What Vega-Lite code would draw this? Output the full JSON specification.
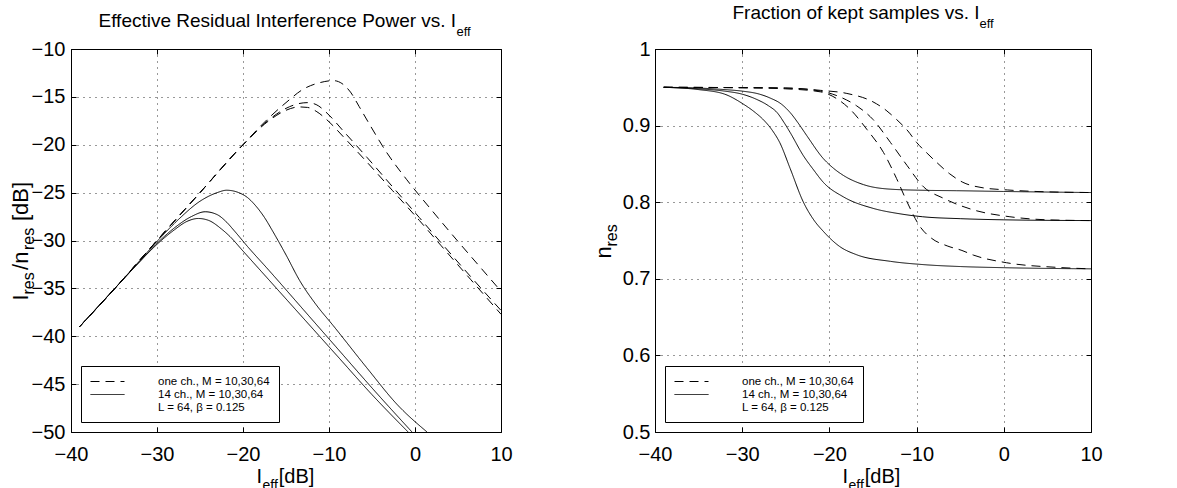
{
 "$schema": "https://vega.github.io/schema/vega-lite/v6.json",
 "background": "white",
 "padding": {"left": 8, "top": 2, "right": 5, "bottom": 0},
 "spacing": 78,
 "datasets": {
  "left": [
   {"s":"A","t":"one ch., M = 10,30,64","x":-39,"y":-39},{"s":"A","t":"one ch., M = 10,30,64","x":-35,"y":-35.1},{"s":"A","t":"one ch., M = 10,30,64","x":-30,"y":-30},{"s":"A","t":"one ch., M = 10,30,64","x":-25,"y":-25},{"s":"A","t":"one ch., M = 10,30,64","x":-20,"y":-20},{"s":"A","t":"one ch., M = 10,30,64","x":-17,"y":-17.2},{"s":"A","t":"one ch., M = 10,30,64","x":-15,"y":-15.6},{"s":"A","t":"one ch., M = 10,30,64","x":-13,"y":-14.2},{"s":"A","t":"one ch., M = 10,30,64","x":-11,"y":-13.5},{"s":"A","t":"one ch., M = 10,30,64","x":-9.5,"y":-13.3},{"s":"A","t":"one ch., M = 10,30,64","x":-8.5,"y":-13.6},{"s":"A","t":"one ch., M = 10,30,64","x":-7.5,"y":-14.5},{"s":"A","t":"one ch., M = 10,30,64","x":-6.5,"y":-16},{"s":"A","t":"one ch., M = 10,30,64","x":-5.2,"y":-18},{"s":"A","t":"one ch., M = 10,30,64","x":-3.3,"y":-20.8},{"s":"A","t":"one ch., M = 10,30,64","x":-1,"y":-23.6},{"s":"A","t":"one ch., M = 10,30,64","x":2,"y":-26.9},{"s":"A","t":"one ch., M = 10,30,64","x":5,"y":-30.1},{"s":"A","t":"one ch., M = 10,30,64","x":7.5,"y":-32.7},{"s":"A","t":"one ch., M = 10,30,64","x":10,"y":-35.3},
   {"s":"B","t":"one ch., M = 10,30,64","x":-39,"y":-39},{"s":"B","t":"one ch., M = 10,30,64","x":-35,"y":-35.1},{"s":"B","t":"one ch., M = 10,30,64","x":-30,"y":-30},{"s":"B","t":"one ch., M = 10,30,64","x":-25,"y":-25},{"s":"B","t":"one ch., M = 10,30,64","x":-20,"y":-20},{"s":"B","t":"one ch., M = 10,30,64","x":-17,"y":-17.4},{"s":"B","t":"one ch., M = 10,30,64","x":-15,"y":-16.2},{"s":"B","t":"one ch., M = 10,30,64","x":-13.5,"y":-15.7},{"s":"B","t":"one ch., M = 10,30,64","x":-12.5,"y":-15.6},{"s":"B","t":"one ch., M = 10,30,64","x":-11.5,"y":-15.8},{"s":"B","t":"one ch., M = 10,30,64","x":-10,"y":-16.9},{"s":"B","t":"one ch., M = 10,30,64","x":-8.4,"y":-18.5},{"s":"B","t":"one ch., M = 10,30,64","x":-5.6,"y":-21.3},{"s":"B","t":"one ch., M = 10,30,64","x":-2.6,"y":-24.4},{"s":"B","t":"one ch., M = 10,30,64","x":0.5,"y":-27.6},{"s":"B","t":"one ch., M = 10,30,64","x":3,"y":-30.2},{"s":"B","t":"one ch., M = 10,30,64","x":6.5,"y":-33.8},{"s":"B","t":"one ch., M = 10,30,64","x":10,"y":-37.3},
   {"s":"C","t":"one ch., M = 10,30,64","x":-39,"y":-39},{"s":"C","t":"one ch., M = 10,30,64","x":-35,"y":-35.1},{"s":"C","t":"one ch., M = 10,30,64","x":-30,"y":-30},{"s":"C","t":"one ch., M = 10,30,64","x":-25,"y":-25},{"s":"C","t":"one ch., M = 10,30,64","x":-20,"y":-20},{"s":"C","t":"one ch., M = 10,30,64","x":-17,"y":-17.5},{"s":"C","t":"one ch., M = 10,30,64","x":-15,"y":-16.4},{"s":"C","t":"one ch., M = 10,30,64","x":-13.5,"y":-16.05},{"s":"C","t":"one ch., M = 10,30,64","x":-12.5,"y":-16.1},{"s":"C","t":"one ch., M = 10,30,64","x":-11.5,"y":-16.5},{"s":"C","t":"one ch., M = 10,30,64","x":-10,"y":-17.6},{"s":"C","t":"one ch., M = 10,30,64","x":-8.4,"y":-19.1},{"s":"C","t":"one ch., M = 10,30,64","x":-5.6,"y":-21.8},{"s":"C","t":"one ch., M = 10,30,64","x":-2.6,"y":-24.8},{"s":"C","t":"one ch., M = 10,30,64","x":0.5,"y":-27.9},{"s":"C","t":"one ch., M = 10,30,64","x":3,"y":-30.5},{"s":"C","t":"one ch., M = 10,30,64","x":6.5,"y":-34.1},{"s":"C","t":"one ch., M = 10,30,64","x":10,"y":-37.7},
   {"s":"S1","t":"14 ch., M = 10,30,64","x":-39,"y":-39},{"s":"S1","t":"14 ch., M = 10,30,64","x":-35,"y":-35.1},{"s":"S1","t":"14 ch., M = 10,30,64","x":-32,"y":-32.1},{"s":"S1","t":"14 ch., M = 10,30,64","x":-30,"y":-30.1},{"s":"S1","t":"14 ch., M = 10,30,64","x":-27.5,"y":-27.8},{"s":"S1","t":"14 ch., M = 10,30,64","x":-25,"y":-25.9},{"s":"S1","t":"14 ch., M = 10,30,64","x":-23,"y":-25.0},{"s":"S1","t":"14 ch., M = 10,30,64","x":-21.9,"y":-24.75},{"s":"S1","t":"14 ch., M = 10,30,64","x":-20.5,"y":-25.0},{"s":"S1","t":"14 ch., M = 10,30,64","x":-19.5,"y":-25.5},{"s":"S1","t":"14 ch., M = 10,30,64","x":-18.5,"y":-26.4},{"s":"S1","t":"14 ch., M = 10,30,64","x":-17.5,"y":-27.6},{"s":"S1","t":"14 ch., M = 10,30,64","x":-16.5,"y":-29.1},{"s":"S1","t":"14 ch., M = 10,30,64","x":-15,"y":-31.5},{"s":"S1","t":"14 ch., M = 10,30,64","x":-13.4,"y":-34.2},{"s":"S1","t":"14 ch., M = 10,30,64","x":-11.5,"y":-36.7},{"s":"S1","t":"14 ch., M = 10,30,64","x":-9.5,"y":-38.9},{"s":"S1","t":"14 ch., M = 10,30,64","x":-5.6,"y":-43.3},{"s":"S1","t":"14 ch., M = 10,30,64","x":-2,"y":-47.2},{"s":"S1","t":"14 ch., M = 10,30,64","x":1.4,"y":-50},
   {"s":"S2","t":"14 ch., M = 10,30,64","x":-39,"y":-39},{"s":"S2","t":"14 ch., M = 10,30,64","x":-35,"y":-35.1},{"s":"S2","t":"14 ch., M = 10,30,64","x":-32,"y":-32.2},{"s":"S2","t":"14 ch., M = 10,30,64","x":-30,"y":-30.3},{"s":"S2","t":"14 ch., M = 10,30,64","x":-28,"y":-28.7},{"s":"S2","t":"14 ch., M = 10,30,64","x":-26,"y":-27.5},{"s":"S2","t":"14 ch., M = 10,30,64","x":-24.4,"y":-27.0},{"s":"S2","t":"14 ch., M = 10,30,64","x":-23,"y":-27.3},{"s":"S2","t":"14 ch., M = 10,30,64","x":-22,"y":-28.0},{"s":"S2","t":"14 ch., M = 10,30,64","x":-21,"y":-29.0},{"s":"S2","t":"14 ch., M = 10,30,64","x":-19.5,"y":-30.6},{"s":"S2","t":"14 ch., M = 10,30,64","x":-17,"y":-33.1},{"s":"S2","t":"14 ch., M = 10,30,64","x":-13,"y":-37.2},{"s":"S2","t":"14 ch., M = 10,30,64","x":-9,"y":-41.3},{"s":"S2","t":"14 ch., M = 10,30,64","x":-5,"y":-45.4},{"s":"S2","t":"14 ch., M = 10,30,64","x":-0.35,"y":-50},
   {"s":"S3","t":"14 ch., M = 10,30,64","x":-39,"y":-39},{"s":"S3","t":"14 ch., M = 10,30,64","x":-35,"y":-35.1},{"s":"S3","t":"14 ch., M = 10,30,64","x":-32,"y":-32.2},{"s":"S3","t":"14 ch., M = 10,30,64","x":-30,"y":-30.4},{"s":"S3","t":"14 ch., M = 10,30,64","x":-28,"y":-28.9},{"s":"S3","t":"14 ch., M = 10,30,64","x":-26.5,"y":-28.0},{"s":"S3","t":"14 ch., M = 10,30,64","x":-25.2,"y":-27.7},{"s":"S3","t":"14 ch., M = 10,30,64","x":-24,"y":-27.9},{"s":"S3","t":"14 ch., M = 10,30,64","x":-22.5,"y":-28.8},{"s":"S3","t":"14 ch., M = 10,30,64","x":-21.5,"y":-29.6},{"s":"S3","t":"14 ch., M = 10,30,64","x":-20,"y":-31.1},{"s":"S3","t":"14 ch., M = 10,30,64","x":-17,"y":-34.1},{"s":"S3","t":"14 ch., M = 10,30,64","x":-13,"y":-38.1},{"s":"S3","t":"14 ch., M = 10,30,64","x":-9,"y":-42.1},{"s":"S3","t":"14 ch., M = 10,30,64","x":-5,"y":-46.1},{"s":"S3","t":"14 ch., M = 10,30,64","x":-0.8,"y":-50}
  ],
  "right": [
   {"s":"D1","t":"one ch., M = 10,30,64","x":-39,"y":0.95},{"s":"D1","t":"one ch., M = 10,30,64","x":-30,"y":0.9495},{"s":"D1","t":"one ch., M = 10,30,64","x":-25,"y":0.949},{"s":"D1","t":"one ch., M = 10,30,64","x":-21,"y":0.946},{"s":"D1","t":"one ch., M = 10,30,64","x":-18,"y":0.942},{"s":"D1","t":"one ch., M = 10,30,64","x":-15,"y":0.931},{"s":"D1","t":"one ch., M = 10,30,64","x":-13.5,"y":0.92},{"s":"D1","t":"one ch., M = 10,30,64","x":-12.3,"y":0.908},{"s":"D1","t":"one ch., M = 10,30,64","x":-11,"y":0.893},{"s":"D1","t":"one ch., M = 10,30,64","x":-10,"y":0.878},{"s":"D1","t":"one ch., M = 10,30,64","x":-8.8,"y":0.864},{"s":"D1","t":"one ch., M = 10,30,64","x":-7.7,"y":0.852},{"s":"D1","t":"one ch., M = 10,30,64","x":-6.2,"y":0.837},{"s":"D1","t":"one ch., M = 10,30,64","x":-4.7,"y":0.826},{"s":"D1","t":"one ch., M = 10,30,64","x":-2.5,"y":0.819},{"s":"D1","t":"one ch., M = 10,30,64","x":0.4,"y":0.816},{"s":"D1","t":"one ch., M = 10,30,64","x":5,"y":0.8135},{"s":"D1","t":"one ch., M = 10,30,64","x":10,"y":0.8126},
   {"s":"D2","t":"one ch., M = 10,30,64","x":-39,"y":0.95},{"s":"D2","t":"one ch., M = 10,30,64","x":-30,"y":0.9495},{"s":"D2","t":"one ch., M = 10,30,64","x":-25,"y":0.949},{"s":"D2","t":"one ch., M = 10,30,64","x":-21,"y":0.945},{"s":"D2","t":"one ch., M = 10,30,64","x":-18.5,"y":0.936},{"s":"D2","t":"one ch., M = 10,30,64","x":-16.9,"y":0.926},{"s":"D2","t":"one ch., M = 10,30,64","x":-15,"y":0.908},{"s":"D2","t":"one ch., M = 10,30,64","x":-13,"y":0.878},{"s":"D2","t":"one ch., M = 10,30,64","x":-11.1,"y":0.848},{"s":"D2","t":"one ch., M = 10,30,64","x":-9.2,"y":0.82},{"s":"D2","t":"one ch., M = 10,30,64","x":-6.9,"y":0.805},{"s":"D2","t":"one ch., M = 10,30,64","x":-3.5,"y":0.79},{"s":"D2","t":"one ch., M = 10,30,64","x":0.7,"y":0.781},{"s":"D2","t":"one ch., M = 10,30,64","x":5,"y":0.777},{"s":"D2","t":"one ch., M = 10,30,64","x":10,"y":0.776},
   {"s":"D3","t":"one ch., M = 10,30,64","x":-39,"y":0.95},{"s":"D3","t":"one ch., M = 10,30,64","x":-30,"y":0.9495},{"s":"D3","t":"one ch., M = 10,30,64","x":-25,"y":0.948},{"s":"D3","t":"one ch., M = 10,30,64","x":-21,"y":0.944},{"s":"D3","t":"one ch., M = 10,30,64","x":-19,"y":0.934},{"s":"D3","t":"one ch., M = 10,30,64","x":-17.6,"y":0.921},{"s":"D3","t":"one ch., M = 10,30,64","x":-15.7,"y":0.895},{"s":"D3","t":"one ch., M = 10,30,64","x":-13.8,"y":0.865},{"s":"D3","t":"one ch., M = 10,30,64","x":-12.3,"y":0.831},{"s":"D3","t":"one ch., M = 10,30,64","x":-11.1,"y":0.8005},{"s":"D3","t":"one ch., M = 10,30,64","x":-9.6,"y":0.768},{"s":"D3","t":"one ch., M = 10,30,64","x":-8.3,"y":0.753},{"s":"D3","t":"one ch., M = 10,30,64","x":-6.5,"y":0.743},{"s":"D3","t":"one ch., M = 10,30,64","x":-4.8,"y":0.737},{"s":"D3","t":"one ch., M = 10,30,64","x":-3.5,"y":0.731},{"s":"D3","t":"one ch., M = 10,30,64","x":0.3,"y":0.721},{"s":"D3","t":"one ch., M = 10,30,64","x":6,"y":0.715},{"s":"D3","t":"one ch., M = 10,30,64","x":10,"y":0.713},
   {"s":"R1","t":"14 ch., M = 10,30,64","x":-39,"y":0.95},{"s":"R1","t":"14 ch., M = 10,30,64","x":-35,"y":0.949},{"s":"R1","t":"14 ch., M = 10,30,64","x":-32,"y":0.947},{"s":"R1","t":"14 ch., M = 10,30,64","x":-30,"y":0.945},{"s":"R1","t":"14 ch., M = 10,30,64","x":-28,"y":0.941},{"s":"R1","t":"14 ch., M = 10,30,64","x":-26.8,"y":0.936},{"s":"R1","t":"14 ch., M = 10,30,64","x":-25.5,"y":0.928},{"s":"R1","t":"14 ch., M = 10,30,64","x":-24.5,"y":0.917},{"s":"R1","t":"14 ch., M = 10,30,64","x":-23.5,"y":0.902},{"s":"R1","t":"14 ch., M = 10,30,64","x":-22.6,"y":0.887},{"s":"R1","t":"14 ch., M = 10,30,64","x":-20.7,"y":0.857},{"s":"R1","t":"14 ch., M = 10,30,64","x":-19.5,"y":0.844},{"s":"R1","t":"14 ch., M = 10,30,64","x":-18.4,"y":0.835},{"s":"R1","t":"14 ch., M = 10,30,64","x":-16.1,"y":0.823},{"s":"R1","t":"14 ch., M = 10,30,64","x":-13,"y":0.817},{"s":"R1","t":"14 ch., M = 10,30,64","x":-9,"y":0.8155},{"s":"R1","t":"14 ch., M = 10,30,64","x":-5.4,"y":0.815},{"s":"R1","t":"14 ch., M = 10,30,64","x":0,"y":0.814},{"s":"R1","t":"14 ch., M = 10,30,64","x":10,"y":0.8126},
   {"s":"R2","t":"14 ch., M = 10,30,64","x":-39,"y":0.95},{"s":"R2","t":"14 ch., M = 10,30,64","x":-35,"y":0.948},{"s":"R2","t":"14 ch., M = 10,30,64","x":-32,"y":0.945},{"s":"R2","t":"14 ch., M = 10,30,64","x":-30,"y":0.941},{"s":"R2","t":"14 ch., M = 10,30,64","x":-28.3,"y":0.934},{"s":"R2","t":"14 ch., M = 10,30,64","x":-27,"y":0.926},{"s":"R2","t":"14 ch., M = 10,30,64","x":-26,"y":0.917},{"s":"R2","t":"14 ch., M = 10,30,64","x":-25.2,"y":0.904},{"s":"R2","t":"14 ch., M = 10,30,64","x":-24.5,"y":0.891},{"s":"R2","t":"14 ch., M = 10,30,64","x":-23,"y":0.861},{"s":"R2","t":"14 ch., M = 10,30,64","x":-21.8,"y":0.842},{"s":"R2","t":"14 ch., M = 10,30,64","x":-20.7,"y":0.826},{"s":"R2","t":"14 ch., M = 10,30,64","x":-18.4,"y":0.807},{"s":"R2","t":"14 ch., M = 10,30,64","x":-15,"y":0.792},{"s":"R2","t":"14 ch., M = 10,30,64","x":-12,"y":0.785},{"s":"R2","t":"14 ch., M = 10,30,64","x":-9.3,"y":0.781},{"s":"R2","t":"14 ch., M = 10,30,64","x":-5,"y":0.7785},{"s":"R2","t":"14 ch., M = 10,30,64","x":0,"y":0.777},{"s":"R2","t":"14 ch., M = 10,30,64","x":10,"y":0.776},
   {"s":"R3","t":"14 ch., M = 10,30,64","x":-39,"y":0.95},{"s":"R3","t":"14 ch., M = 10,30,64","x":-35,"y":0.947},{"s":"R3","t":"14 ch., M = 10,30,64","x":-32,"y":0.941},{"s":"R3","t":"14 ch., M = 10,30,64","x":-30,"y":0.929},{"s":"R3","t":"14 ch., M = 10,30,64","x":-28.5,"y":0.917},{"s":"R3","t":"14 ch., M = 10,30,64","x":-27.6,"y":0.908},{"s":"R3","t":"14 ch., M = 10,30,64","x":-26.5,"y":0.893},{"s":"R3","t":"14 ch., M = 10,30,64","x":-25.7,"y":0.878},{"s":"R3","t":"14 ch., M = 10,30,64","x":-24.5,"y":0.844},{"s":"R3","t":"14 ch., M = 10,30,64","x":-23,"y":0.8005},{"s":"R3","t":"14 ch., M = 10,30,64","x":-21.8,"y":0.777},{"s":"R3","t":"14 ch., M = 10,30,64","x":-20.7,"y":0.762},{"s":"R3","t":"14 ch., M = 10,30,64","x":-18.8,"y":0.742},{"s":"R3","t":"14 ch., M = 10,30,64","x":-16.9,"y":0.7315},{"s":"R3","t":"14 ch., M = 10,30,64","x":-13,"y":0.7228},{"s":"R3","t":"14 ch., M = 10,30,64","x":-9.2,"y":0.7185},{"s":"R3","t":"14 ch., M = 10,30,64","x":-5,"y":0.716},{"s":"R3","t":"14 ch., M = 10,30,64","x":0,"y":0.7145},{"s":"R3","t":"14 ch., M = 10,30,64","x":10,"y":0.713}
  ]
 },
 "hconcat": [
  {
   "width": 430, "height": 383,
   "layer": [
    {"data": {"name": "left"},
     "mark": {"type": "line", "color": "black", "strokeWidth": 1, "interpolate": "monotone", "clip": true},
     "encoding": {
      "x": {"field": "x", "type": "quantitative", "scale": {"domain": [-40, 10], "nice": false},
            "axis": {"orient": "bottom", "values": [-40,-30,-20,-10,0,10], "format": "~f", "labelBaseline": "alphabetic", "labelPadding": 33, "tickSize": -5, "grid": true,
                     "title": "I\u00a0\u00a0\u00a0[dB]", "titleFontSize": 20, "titleAlign": "left", "titleBaseline": "alphabetic", "titleAngle": 0, "titleX": 185, "titleY": 50}},
      "y": {"field": "y", "type": "quantitative", "scale": {"domain": [-50, -10], "nice": false, "zero": false},
            "axis": {"orient": "left", "values": [-50,-45,-40,-35,-30,-25,-20,-15,-10], "format": "~f", "labelPadding": 11, "tickSize": -5, "grid": true,
                     "title": "I\u00a0\u00a0\u00a0\u00a0/n\u00a0\u00a0\u00a0\u00a0\u00a0[dB]", "titleFontSize": 22, "titleAngle": 270, "titleAlign": "left", "titleBaseline": "alphabetic", "titleX": -44, "titleY": 251}},
      "detail": {"field": "s", "type": "nominal"},
      "strokeDash": {"field": "t", "type": "nominal",
            "scale": {"domain": ["one ch., M = 10,30,64", "14 ch., M = 10,30,64", "L = 64, β = 0.125"], "range": [[9,6],[1,0],[0,1000]]},
            "legend": {"title": null, "orient": "bottom-left", "offset": 10, "labelExpr": "datum.label + '\u00a0\u00a0\u00a0'"}}
     }},
    {"data": {"name": "left"}, "transform": [{"filter": "false"}],
     "mark": {"type": "point", "opacity": 0},
     "encoding": {
      "x": {"field": "x", "type": "quantitative", "scale": {"domain": [-40, 10], "nice": false},
            "axis": {"orient": "bottom", "labels": false, "ticks": false, "grid": false, "title": "eff", "titleFontSize": 14, "titleAlign": "left", "titleBaseline": "alphabetic", "titleX": 191, "titleY": 57}},
      "y": {"field": "y", "type": "quantitative", "scale": {"domain": [-50, -10], "nice": false, "zero": false},
            "axis": {"orient": "left", "labels": false, "ticks": false, "grid": false, "title": "res\u00a0\u00a0\u00a0\u00a0\u00a0res", "titleFontSize": 16, "titleAngle": 270, "titleAlign": "left", "titleBaseline": "alphabetic", "titleX": -38, "titleY": 245}}
     }},
    {"data": {"name": "left"}, "transform": [{"filter": "false"}],
     "mark": {"type": "point", "opacity": 0},
     "encoding": {
      "x": {"field": "x", "type": "quantitative", "scale": {"domain": [-40, 10], "nice": false},
            "axis": {"orient": "top", "values": [-40,-30,-20,-10,0,10], "labels": false, "ticks": true, "tickSize": -5, "grid": false,
                     "title": "Effective Residual Interference Power vs. I", "titleFontSize": 19, "titleAlign": "left", "titleBaseline": "alphabetic", "titleX": 27, "titleY": -23}},
      "y": {"field": "y", "type": "quantitative", "scale": {"domain": [-50, -10], "nice": false, "zero": false},
            "axis": {"orient": "right", "values": [-50,-45,-40,-35,-30,-25,-20,-15,-10], "labels": false, "ticks": true, "tickSize": -5, "grid": false, "title": null}}
     }},
    {"data": {"name": "left"}, "transform": [{"filter": "false"}],
     "mark": {"type": "point", "opacity": 0},
     "encoding": {
      "x": {"field": "x", "type": "quantitative", "scale": {"domain": [-40, 10], "nice": false},
            "axis": {"orient": "top", "labels": false, "ticks": false, "grid": false, "title": "eff", "titleFontSize": 13, "titleAlign": "left", "titleBaseline": "alphabetic", "titleX": 385, "titleY": -14}},
      "y": {"field": "y", "type": "quantitative", "scale": {"domain": [-50, -10], "nice": false, "zero": false}, "axis": null}
     }}
   ],
   "resolve": {"axis": {"x": "independent", "y": "independent"}}
  },
  {
   "width": 436, "height": 383,
   "layer": [
    {"data": {"name": "right"},
     "mark": {"type": "line", "color": "black", "strokeWidth": 1, "interpolate": "monotone", "clip": true},
     "encoding": {
      "x": {"field": "x", "type": "quantitative", "scale": {"domain": [-40, 10], "nice": false},
            "axis": {"orient": "bottom", "values": [-40,-30,-20,-10,0,10], "format": "~f", "labelBaseline": "alphabetic", "labelPadding": 33, "tickSize": -5, "grid": true,
                     "title": "I\u00a0\u00a0\u00a0[dB]", "titleFontSize": 20, "titleAlign": "left", "titleBaseline": "alphabetic", "titleAngle": 0, "titleX": 187, "titleY": 50}},
      "y": {"field": "y", "type": "quantitative", "scale": {"domain": [0.5, 1], "nice": false, "zero": false},
            "axis": {"orient": "left", "values": [0.5,0.6,0.7,0.8,0.9,1], "format": "~f", "labelPadding": 10, "tickSize": -5, "grid": true,
                     "title": "n", "titleFontSize": 22, "titleAngle": 270, "titleAlign": "left", "titleBaseline": "alphabetic", "titleX": -45, "titleY": 209}},
      "detail": {"field": "s", "type": "nominal"},
      "strokeDash": {"field": "t", "type": "nominal",
            "scale": {"domain": ["one ch., M = 10,30,64", "14 ch., M = 10,30,64", "L = 64, β = 0.125"], "range": [[9,6],[1,0],[0,1000]]},
            "legend": {"title": null, "orient": "bottom-left", "offset": 10, "labelExpr": "datum.label + '\u00a0\u00a0\u00a0'"}}
     }},
    {"data": {"name": "right"}, "transform": [{"filter": "false"}],
     "mark": {"type": "point", "opacity": 0},
     "encoding": {
      "x": {"field": "x", "type": "quantitative", "scale": {"domain": [-40, 10], "nice": false},
            "axis": {"orient": "bottom", "labels": false, "ticks": false, "grid": false, "title": "eff", "titleFontSize": 14, "titleAlign": "left", "titleBaseline": "alphabetic", "titleX": 193, "titleY": 57}},
      "y": {"field": "y", "type": "quantitative", "scale": {"domain": [0.5, 1], "nice": false, "zero": false},
            "axis": {"orient": "left", "labels": false, "ticks": false, "grid": false, "title": "res", "titleFontSize": 16, "titleAngle": 270, "titleAlign": "left", "titleBaseline": "alphabetic", "titleX": -39, "titleY": 197}}
     }},
    {"data": {"name": "right"}, "transform": [{"filter": "false"}],
     "mark": {"type": "point", "opacity": 0},
     "encoding": {
      "x": {"field": "x", "type": "quantitative", "scale": {"domain": [-40, 10], "nice": false},
            "axis": {"orient": "top", "values": [-40,-30,-20,-10,0,10], "labels": false, "ticks": true, "tickSize": -5, "grid": false,
                     "title": "Fraction of kept samples vs. I", "titleFontSize": 19, "titleAlign": "left", "titleBaseline": "alphabetic", "titleX": 77, "titleY": -31}},
      "y": {"field": "y", "type": "quantitative", "scale": {"domain": [0.5, 1], "nice": false, "zero": false},
            "axis": {"orient": "right", "values": [0.5,0.6,0.7,0.8,0.9,1], "labels": false, "ticks": true, "tickSize": -5, "grid": false, "title": null}}
     }},
    {"data": {"name": "right"}, "transform": [{"filter": "false"}],
     "mark": {"type": "point", "opacity": 0},
     "encoding": {
      "x": {"field": "x", "type": "quantitative", "scale": {"domain": [-40, 10], "nice": false},
            "axis": {"orient": "top", "labels": false, "ticks": false, "grid": false, "title": "eff", "titleFontSize": 13, "titleAlign": "left", "titleBaseline": "alphabetic", "titleX": 324, "titleY": -22}},
      "y": {"field": "y", "type": "quantitative", "scale": {"domain": [0.5, 1], "nice": false, "zero": false}, "axis": null}
     }}
   ],
   "resolve": {"axis": {"x": "independent", "y": "independent"}}
  }
 ],
 "resolve": {"scale": {"strokeDash": "independent"}, "legend": {"strokeDash": "independent"}},
 "config": {
  "view": {"stroke": "black", "strokeWidth": 1},
  "font": "Liberation Sans",
  "axis": {"labelFont": "Liberation Sans", "labelFontSize": 20, "labelColor": "black", "labelFlush": false, "labelOverlap": false, "labelAngle": 0,
           "titleFont": "Liberation Sans", "titleFontWeight": "normal", "titleColor": "black", "titlePadding": 0,
           "tickColor": "black", "tickWidth": 1, "domain": false,
           "gridColor": "black", "gridDash": [1,5], "gridWidth": 1, "gridOpacity": 0.8},
  "legend": {"padding": 9, "strokeColor": "black", "strokeWidth": 1, "fillColor": "white", "cornerRadius": 0,
             "symbolType": "M-2.833,0H2.833", "symbolSize": 144, "symbolStrokeWidth": 1, "symbolStrokeColor": "black", "symbolFillColor": "transparent", "symbolOffset": 11,
             "labelFont": "Liberation Sans", "labelFontSize": 11.5, "labelColor": "black", "labelOffset": 44, "rowPadding": 1, "labelLimit": 400}
 }
}
